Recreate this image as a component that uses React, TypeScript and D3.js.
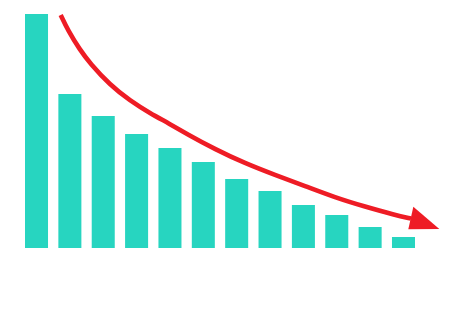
import React from "react";
import * as d3 from "d3";

const categories = ["1", "2", "3", "4", "5", "6", "7", "8", "9", "10", "11", "12"];
const values = [234, 154, 132, 114, 100, 86, 69, 57, 43, 33, 21, 11];

// trend arrow path, in (category index, value) units
const arrowIdx = [0.725, 0.938, 1.304, 1.604, 2.203, 2.803, 3.402, 4.002, 4.511, 5.356, 6.25, 7.149, 8.049, 8.948, 9.847, 10.746, 11.226];
const arrowVal = [233, 218, 198, 184.7, 163, 147.3, 134.7, 124, 114, 98.7, 84.7, 73, 62, 50.5, 41.3, 33, 29.5];
// arrow head: tip and two back corners
const headIdx = [12.075, 11.295, 11.145];
const headVal = [19, 41.3, 18.7];

const W = 455;
const H = 323;
const TEAL = "#27D5C0";
const RED = "#EE1C25";

export default function App() {
  const x = d3.scaleBand<string>().domain(categories).range([25, 415]).paddingInner(0.31).paddingOuter(0);
  const y = d3.scaleLinear().domain([0, 234]).range([248, 14]);
  const c0 = (x(categories[0]) as number) + x.bandwidth() / 2;
  const c1 = (x(categories[categories.length - 1]) as number) + x.bandwidth() / 2;
  const xi = d3.scaleLinear().domain([0, categories.length - 1]).range([c0, c1]);

  const pts: [number, number][] = arrowIdx.map((d, i) => [xi(d), y(arrowVal[i])]);
  const line = d3.line().curve(d3.curveBasis);
  const pathD = line(pts) || "";

  const head = headIdx.map((d, i) => `${xi(d)},${y(headVal[i])}`).join(" ");

  return (
    <svg width={W} height={H} style={{ position: "absolute", left: 0, top: 0, background: "#fff" }}>
      {categories.map((c, i) => (
        <rect
          key={c}
          x={x(c)}
          y={y(values[i])}
          width={x.bandwidth()}
          height={y(0) - y(values[i])}
          fill={TEAL}
        />
      ))}
      <path d={pathD} fill="none" stroke={RED} strokeWidth={4.6} />
      <polygon points={head} fill={RED} />
    </svg>
  );
}
